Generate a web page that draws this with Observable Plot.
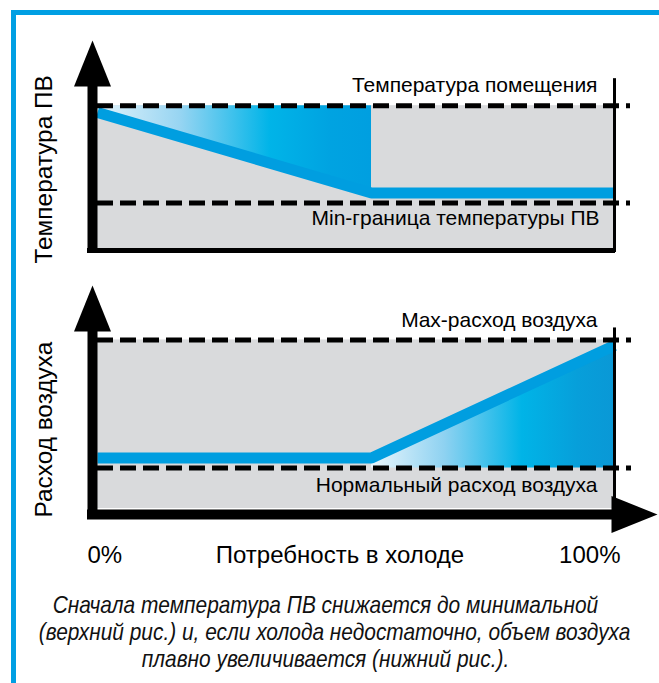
<!DOCTYPE html>
<html><head><meta charset="utf-8">
<script src="https://cdn.jsdelivr.net/npm/d3@7"></script>
<script src="https://cdn.jsdelivr.net/npm/@observablehq/plot@0.6"></script>
<style>
html,body{margin:0;padding:0;background:#fff;}
#root{position:relative;width:659px;height:683px;overflow:hidden;font-family:"Liberation Sans",Arial,sans-serif;}
#frame{position:absolute;left:11px;top:10px;width:700px;height:700px;border-top:5px solid #009fe3;border-left:5px solid #009fe3;}
#top,#bottom{position:absolute;left:0;}
#top{top:0px;}
#bottom{top:270px;}
#caption{position:absolute;left:-4px;width:659px;top:591px;text-align:center;font-family:"Liberation Sans",Arial,sans-serif;font-style:italic;font-size:24px;line-height:27px;color:#111;}
#caption div{transform:scaleX(0.87);transform-origin:50% 50%;white-space:nowrap;}
</style></head>
<body><div id="root"><div id="frame"></div><div id="top"></div><div id="bottom"></div><div id="caption"></div></div>
<script>
// ---- data ----
const demand = [0, 53, 100];                 // Потребность в холоде, %
const supplyTemp = [95.3, 39.7, 39.7];       // Температура ПВ (условные единицы)
const roomTemp = 100;
const minSupplyTemp = 32.8;
const tempAxisTop = 145;
const airflow = [30.0, 30.0, 96.7];          // Расход воздуха (условные единицы)
const normalFlow = 24.0;
const maxFlow = 100;
const flowAxisTop = 132.3;
const xTickValues = [0, 100];
const xTickLabels = ["0%", "100%"];
const xAxisLabel = "Потребность в холоде";
const yAxisLabels = ["Температура ПВ", "Расход воздуха"];
const topLineLabels = ["Температура помещения", "Min-граница температуры ПВ"];
const bottomLineLabels = ["Max-расход воздуха", "Нормальный расход воздуха"];
const captionLines = [
  "Сначала температура ПВ снижается до минимальной",
  "(верхний рис.) и, если холода недостаточно, объем воздуха",
  "плавно увеличивается (нижний рис.)."
];

// ---- styles ----
const GRAY = "#d9dadc", BLUE = "#009ee0", FS = 21, FSY = 24.4, FSX = 24;
const FONT = "'Liberation Sans', Arial, sans-serif";
const arrowHead = {draw(ctx){ ctx.moveTo(0,0); ctx.lineTo(18.5,46); ctx.lineTo(-18.5,46); ctx.closePath(); }};

const tempData = demand.map((d,i)=>({demand:d, value:supplyTemp[i]}));
const flowData = demand.map((d,i)=>({demand:d, value:airflow[i]}));

function addGradient(svg, id, stops){
  const defs = d3.select(svg).insert("defs", ":first-child");
  const g = defs.append("linearGradient").attr("id", id).attr("x1","0").attr("x2","1").attr("y1","0").attr("y2","0");
  stops.forEach(([o,c]) => g.append("stop").attr("offset", o).attr("stop-color", c));
}

// ---- top panel ----
const topSvg = Plot.plot({
  width: 659, height: 260,
  marginLeft: 97, marginRight: 45, marginTop: 40, marginBottom: 10,
  x: {domain: [0, 100], axis: null},
  y: {domain: [0, tempAxisTop], axis: null},
  style: {background: "transparent", fontFamily: FONT, fontSize: FS + "px", overflow: "visible"},
  marks: [
    Plot.rect([0], {x1: 0, x2: 100, y1: 0, y2: roomTemp, fill: GRAY}),
    Plot.areaY(tempData.slice(0, 2), {x: "demand", y1: "value", y2: roomTemp, fill: "url(#gradTemp)"}),
    Plot.line(tempData, {x: "demand", y: "value", stroke: BLUE, strokeWidth: 11, strokeLinejoin: "miter", strokeLinecap: "butt"}),
    Plot.ruleY([roomTemp, minSupplyTemp], {x1: 0, x2: 100, stroke: "#000", strokeWidth: 5, strokeDasharray: "16,7", insetRight: -16}),
    Plot.ruleX([100], {y1: roomTemp, y2: 0, stroke: "#000", strokeWidth: 3, insetTop: -27, insetBottom: -2}),
    Plot.ruleY([0], {x1: 0, x2: 100, stroke: "#000", strokeWidth: 5, insetLeft: -10, insetRight: -1}),
    Plot.ruleX([0], {y1: tempAxisTop, y2: 0, dx: -5, stroke: "#000", strokeWidth: 10, insetTop: 40, insetBottom: -3}),
    Plot.dot([tempAxisTop], {x: 0, y: d => d, dx: -5, symbol: arrowHead, fill: "#000", stroke: "none"}),
    Plot.text([topLineLabels[0]], {x: 100, y: roomTemp, text: d => d, textAnchor: "end", lineAnchor: "bottom", dx: -17, dy: -14, fontSize: FS}),
    Plot.text([topLineLabels[1]], {x: 100, y: minSupplyTemp, text: d => d, textAnchor: "end", lineAnchor: "bottom", dx: -15, dy: 22, fontSize: FS}),
    Plot.text([yAxisLabels[0]], {x: 0, y: 0, text: d => d, rotate: -90, textAnchor: "start", lineAnchor: "middle", dx: -53, dy: 13, fontSize: FSY})
  ]
});
addGradient(topSvg, "gradTemp", [[0,"#e3f3fb"],[0.3,"#98d5f2"],[0.63,"#00b4e8"],[0.85,"#00a3e1"],[1,"#009fe0"]]);
document.getElementById("top").appendChild(topSvg);

// ---- bottom panel ----
const bottomSvg = Plot.plot({
  width: 659, height: 305,
  marginLeft: 97, marginRight: 45, marginTop: 15, marginBottom: 67,
  x: {domain: [0, 100], axis: null},
  y: {domain: [0, flowAxisTop], axis: null},
  style: {background: "transparent", fontFamily: FONT, fontSize: FS + "px", overflow: "visible"},
  marks: [
    Plot.rect([0], {x1: 0, x2: 100, y1: 0, y2: maxFlow, fill: GRAY}),
    Plot.areaY(flowData.slice(1), {x: "demand", y1: normalFlow, y2: "value", fill: "url(#gradFlow)"}),
    Plot.line(flowData, {x: "demand", y: "value", stroke: BLUE, strokeWidth: 11, strokeLinejoin: "miter", strokeLinecap: "butt"}),
    Plot.ruleY([maxFlow, normalFlow], {x1: 0, x2: 100, stroke: "#000", strokeWidth: 5, strokeDasharray: "16,7", insetRight: -17}),
    Plot.ruleX([100], {y1: maxFlow, y2: 0, stroke: "#000", strokeWidth: 3, insetTop: -12}),
    Plot.ruleY([0], {x1: 0, x2: 100, dy: 6, stroke: "#000", strokeWidth: 10, insetLeft: -10, insetRight: -1}),
    Plot.ruleX([0], {y1: flowAxisTop, y2: 0, dx: -5, stroke: "#000", strokeWidth: 10, insetTop: 40, insetBottom: -11}),
    Plot.dot([flowAxisTop], {x: 0, y: d => d, dx: -5, symbol: arrowHead, fill: "#000", stroke: "none"}),
    Plot.dot([100], {x: d => d, y: 0, dx: 43, dy: 6, rotate: 90, symbol: arrowHead, fill: "#000", stroke: "none"}),
    Plot.text([bottomLineLabels[0]], {x: 100, y: maxFlow, text: d => d, textAnchor: "end", lineAnchor: "bottom", dx: -17, dy: -13, fontSize: FS}),
    Plot.text([bottomLineLabels[1]], {x: 100, y: normalFlow, text: d => d, textAnchor: "end", lineAnchor: "bottom", dx: -17, dy: 24, fontSize: FS}),
    Plot.text([yAxisLabels[1]], {x: 0, y: 0, text: d => d, rotate: -90, textAnchor: "start", lineAnchor: "middle", dx: -53, dy: 9, fontSize: FSY}),
    Plot.text([xTickValues[0]], {x: d => d, y: 0, text: () => xTickLabels[0], textAnchor: "start", lineAnchor: "bottom", dx: -10, dy: 54, fontSize: FSX}),
    Plot.text([xTickValues[1]], {x: d => d, y: 0, text: () => xTickLabels[1], textAnchor: "end", lineAnchor: "bottom", dx: 6, dy: 54, fontSize: FSX}),
    Plot.text([xAxisLabel], {x: 50, y: 0, text: d => d, textAnchor: "middle", lineAnchor: "bottom", dx: -16, dy: 54, fontSize: FSX})
  ]
});
addGradient(bottomSvg, "gradFlow", [[0,"#eaf6fc"],[0.3,"#8fd2f1"],[0.62,"#00b4e7"],[0.85,"#079fda"],[1,"#0a98d6"]]);
document.getElementById("bottom").appendChild(bottomSvg);

// ---- caption ----
const cap = d3.select("#caption");
captionLines.forEach(s => cap.append("div").text(s));
</script>
</body></html>
